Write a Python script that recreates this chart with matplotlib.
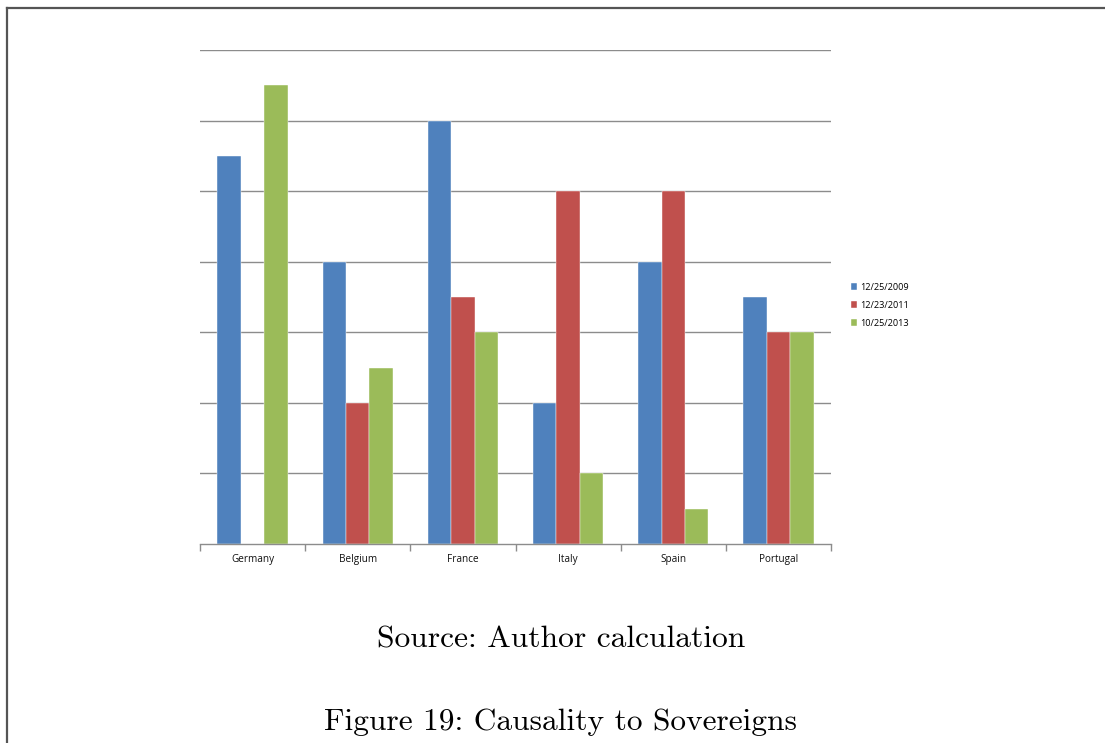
import numpy as np
import matplotlib
matplotlib.use('Agg')
import matplotlib.pyplot as plt
from matplotlib.lines import Line2D

# ---------- data ----------
countries = ['Germany', 'Belgium', 'France', 'Italy', 'Spain', 'Portugal']
dates = ['12/25/2009', '12/23/2011', '10/25/2013']
v2009 = [5.5, 4.0, 6.0, 2.0, 4.0, 3.5]
v2011 = [0.0, 2.0, 3.5, 5.0, 5.0, 3.0]
v2013 = [6.5, 2.5, 3.0, 1.0, 0.5, 3.0]
colors = ['#4F81BD', '#C0504D', '#9BBB59']

fig = plt.figure(figsize=(11.05, 7.43), dpi=100)
ax = fig.add_axes([200 / 1105, 1 - 544 / 743, 631 / 1105, 494 / 743])

x = np.arange(len(countries))
width = 0.223
for i, (vals, lab) in enumerate(zip([v2009, v2011, v2013], dates)):
    ax.bar(x + (i - 1) * width, vals, width, color=colors[i], label=lab,
           edgecolor='white', linewidth=0.3, zorder=3)

ax.set_xlim(-0.5, len(countries) - 0.5)
ax.set_ylim(0, 7)
ax.set_yticks(range(1, 8))
ax.yaxis.grid(True, color='#8c8c8c', linewidth=1.0, zorder=0)
ax.tick_params(axis='y', left=False, labelleft=False)
for s in ['top', 'right', 'left']:
    ax.spines[s].set_visible(False)
ax.spines['bottom'].set_color('#8c8c8c')
ax.spines['bottom'].set_linewidth(1.0)
ax.spines['bottom'].set_zorder(4)

# category boundary ticks
ax.set_xticks(np.arange(-0.5, len(countries)), minor=False)
ax.set_xticklabels([])
ax.tick_params(axis='x', which='major', length=5, color='#8c8c8c', width=1.0)
ax.set_xticks(x, minor=True)
ax.set_xticklabels(countries, minor=True, fontsize=7.2, family='Open Sans', color='#111111')
ax.tick_params(axis='x', which='minor', length=0, pad=7)

leg = fig.legend(loc='upper left', bbox_to_anchor=(846 / 1105, 1 - 278 / 743),
                 frameon=False, prop={'family': 'Open Sans', 'size': 6.6},
                 handlelength=0.75, handleheight=0.75, handletextpad=0.35,
                 labelspacing=1.0, borderpad=0)

# page frame (left and top edges)
fig.add_artist(Line2D([7 / 1105, 7 / 1105], [0, 1 - 8 / 743], color='#555555', linewidth=1.6))
fig.add_artist(Line2D([7 / 1105, 1], [1 - 8 / 743, 1 - 8 / 743], color='#555555', linewidth=1.6))

fig.text(561 / 1105, 1 - 640 / 743, 'Source: Author calculation', ha='center', va='center',
         family='cmr10', fontsize=22.7)
fig.text(561 / 1105, 1 - 722 / 743, 'Figure 19: Causality to Sovereigns', ha='center', va='center',
         family='cmr10', fontsize=22.6)

fig.savefig('out.png', dpi=100)
